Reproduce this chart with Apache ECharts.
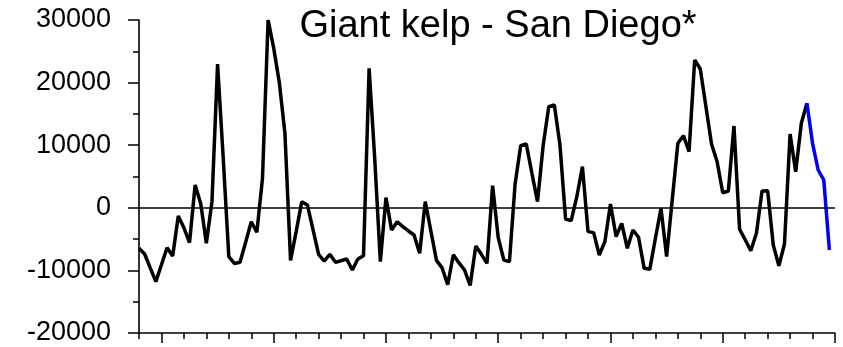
<!DOCTYPE html>
<html>
<head>
<meta charset="utf-8">
<title>Giant kelp - San Diego*</title>
<script src="https://cdn.jsdelivr.net/npm/echarts@6/dist/echarts.min.js"></script>
<style>
  html, body { margin: 0; padding: 0; background: #fff; }
  #chart { width: 843px; height: 347px; }
</style>
</head>
<body>
<div id="chart"></div>
<script>
// Quarterly anomaly series (31 years x 4 quarters on the axis)
var quarterCount = 125; // axis positions 0..124
var kelpMain = [
  -6470, -7380, -9600, -11800, -9100, -6370, -7700, -1310, -3200, -5570,
  3640, 650, -5680, 980, 22970, 8000, -7800, -8900, -8700, -5500,
  -2220, -3910, 4710, 30000, 25500, 20000, 11900, -8400, -3800, 980,
  450, -3500, -7430, -8500, -7430, -8710, -8450, -8180, -9940, -8180,
  -7650, 22280, 7800, -8600, 1620, -3550, -2220, -3000, -3700, -4350,
  -7270, 980, -3700, -8400, -9600, -12300, -7500, -8800, -9940, -12400,
  -6100, -7430, -8870, 3530, -4770, -8340, -8600, 3750, 9920, 10190,
  5500, 980, 9920, 16150, 16420, 10030, -1790, -2060, 1770, 6570,
  -3810, -3970, -7540, -5410, 600, -4610, -2480, -6470, -3550, -4710,
  -9670, -9830, -4900, -90, -7800, 1250, 10300, 11520, 8960, 23610,
  22170, 16200, 10190, 7360, 2410, 2680, 13070, -3430, -5100, -6850,
  -4070, 2680, 2730, -5940, -9250, -5780, 11790, 5770, 13500, 16690
];
// Most recent quarters, drawn in blue (starts at the last black point)
var kelpRecentStart = 119;
var kelpRecent = [16690, 10300, 6040, 4440, -6740];

var yMin = -20000, yMax = 30000, yStep = 10000;
var titleText = 'Giant kelp - San Diego*';

var categories = [];
for (var i = 0; i < quarterCount; i++) categories.push(String(i));

var mainData = categories.map(function (c, i) {
  return i < kelpMain.length ? kelpMain[i] : null;
});
var recentData = categories.map(function (c, i) {
  var k = i - kelpRecentStart;
  return (k >= 0 && k < kelpRecent.length) ? kelpRecent[k] : null;
});

var font = 'Arial, "Liberation Sans", Helvetica, sans-serif';
var chart = echarts.init(document.getElementById('chart'), null, { renderer: 'canvas' });

var baseX = {
  type: 'category',
  data: categories,
  boundaryGap: false,
  gridIndex: 0,
  position: 'bottom',
  axisLabel: { show: false },
  splitLine: { show: false }
};

chart.setOption({
  animation: false,
  backgroundColor: '#ffffff',
  title: {
    text: titleText,
    left: 493,
    textAlign: 'center',
    top: 3,
    textStyle: { fontFamily: font, fontSize: 38, fontWeight: 'normal', color: '#000' }
  },
  grid: { left: 139, right: 8, top: 20, bottom: 14, containLabel: false },
  xAxis: [
    Object.assign({}, baseX, {
      axisLine: { show: true, onZero: false, lineStyle: { color: '#000', width: 1.6 } },
      axisTick: {
        show: true, inside: false, length: 6,
        interval: function (index) { return index % 4 === 0; },
        lineStyle: { color: '#000', width: 1.5 }
      }
    }),
    Object.assign({}, baseX, {
      axisLine: { show: false, onZero: false },
      axisTick: {
        show: true, inside: false, length: 10,
        interval: function (index) { return index % 20 === 4; },
        lineStyle: { color: '#000', width: 1.5 }
      }
    })
  ],
  yAxis: {
    type: 'value',
    min: yMin, max: yMax, interval: yStep,
    axisLine: { show: true, onZero: false, lineStyle: { color: '#000', width: 1.6 } },
    axisTick: { show: true, inside: false, length: 11, lineStyle: { color: '#000', width: 1.5 } },
    minorTick: { show: true, splitNumber: 2, length: 6, lineStyle: { color: '#000', width: 1.5 } },
    splitLine: { show: false },
    minorSplitLine: { show: false },
    axisLabel: {
      fontFamily: font, fontSize: 27, color: '#000', margin: 28,
      formatter: function (v) { return String(v); }
    }
  },
  series: [
    {
      type: 'line',
      data: mainData,
      xAxisIndex: 0,
      showSymbol: false,
      symbol: 'none',
      connectNulls: false,
      lineStyle: { color: '#000', width: 3.5 },
      z: 3,
      markLine: {
        silent: true,
        symbol: ['none', 'none'],
        label: { show: false },
        lineStyle: { color: '#000', width: 1.6, type: 'solid' },
        data: [{ yAxis: 0 }]
      }
    },
    {
      type: 'line',
      data: recentData,
      xAxisIndex: 0,
      showSymbol: false,
      symbol: 'none',
      connectNulls: false,
      lineStyle: { color: '#0000ff', width: 3.5 },
      z: 4
    }
  ]
});
</script>
</body>
</html>
